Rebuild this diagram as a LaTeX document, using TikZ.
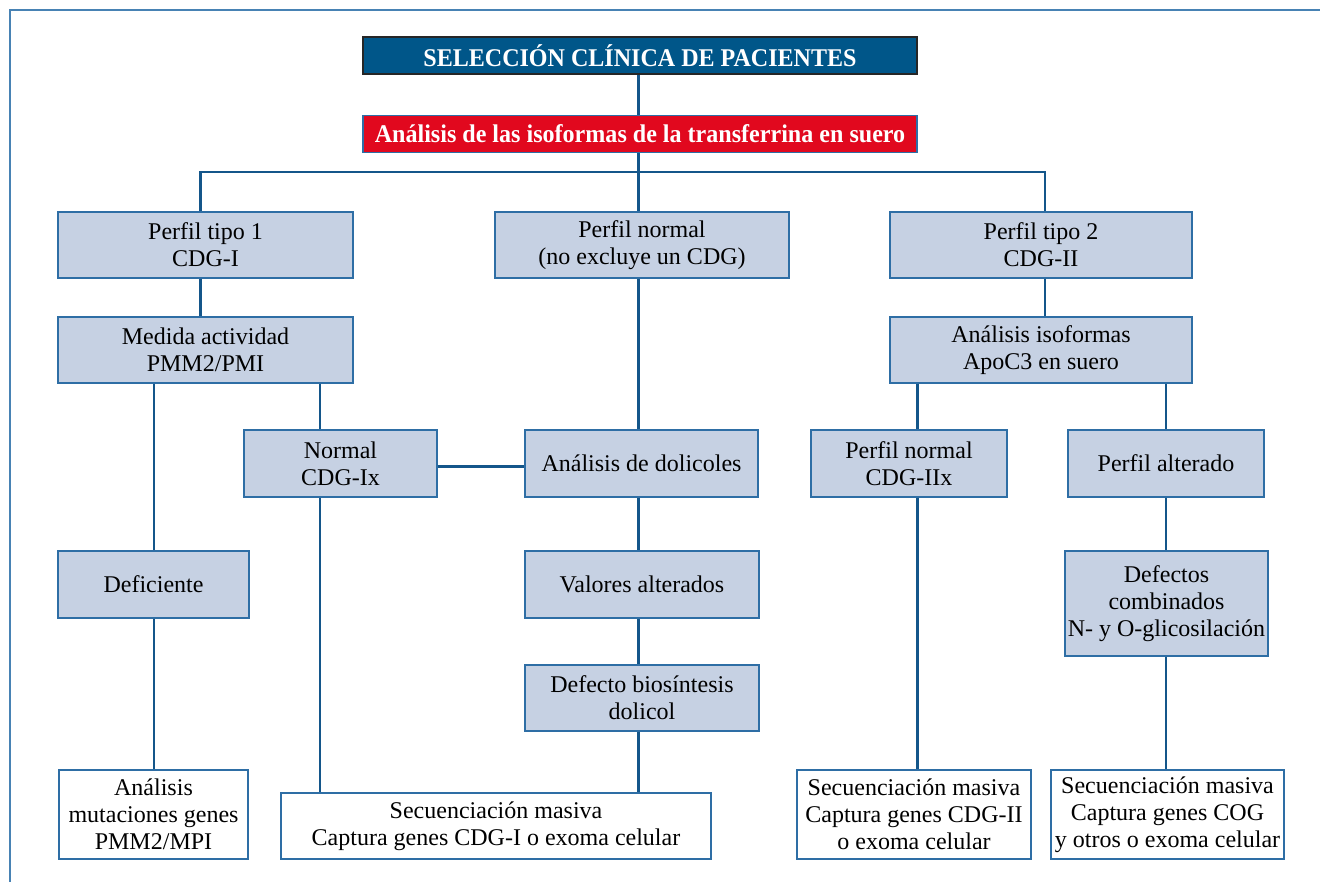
\documentclass[tikz,border=0pt]{standalone}
\usepackage{fontspec}
\setmainfont{Liberation Serif}
\definecolor{framec}{RGB}{72,130,180}
\definecolor{linec}{RGB}{20,86,138}
\definecolor{boxborder}{RGB}{46,110,165}
\definecolor{boxfill}{RGB}{198,209,227}
\definecolor{titlefill}{RGB}{0,86,137}
\definecolor{redfill}{RGB}{225,8,30}
\tikzset{
  conn/.style={draw=linec, line width=2.8pt},
  box/.style={draw=boxborder, line width=1.1pt, fill=boxfill, align=center, inner sep=0pt,
    font=\fontsize{24}{27}\selectfont},
  wbox/.style={box, fill=white},
  hdr/.style={draw=black!85, line width=1.3pt, fill=titlefill, text=white, align=center, inner sep=0pt,
    minimum width=554pt, minimum height=37pt, font=\bfseries\fontsize{25.5}{28}\selectfont},
  rhdr/.style={hdr, draw=boxborder, fill=redfill}
}
\begin{document}
\begin{tikzpicture}[x=1pt,y=-1pt]
\useasboundingbox (0,0) rectangle (1320,882);
\draw[framec, line width=1.5pt] (10,882) -- (10,10) -- (1320,10);

\node[hdr] (title) at (640,55.5) {\scalebox{0.943}[1]{SELECCIÓN CLÍNICA DE PACIENTES}};
\node[rhdr] (red) at (640,134) {\scalebox{0.944}[1]{Análisis de las isoformas de la transferrina en suero}};

\node[box, minimum width=295pt, minimum height=66pt] (p1) at (205.5,245) {Perfil tipo 1\\CDG-I};
\node[box, minimum width=294pt, minimum height=66pt] (pn) at (642,245) {Perfil normal\\(no excluye un CDG)};
\node[box, minimum width=302pt, minimum height=66pt] (p2) at (1041,245) {Perfil tipo 2\\CDG-II};

\node[box, minimum width=295pt, minimum height=66pt] (med) at (205.5,350) {Medida actividad\\PMM2/PMI};
\node[box, minimum width=302pt, minimum height=66pt] (apo) at (1041,350) {Análisis isoformas\\ApoC3 en suero};

\node[box, minimum width=193pt, minimum height=67pt] (ncdg) at (340.5,463.5) {Normal\\CDG-Ix};
\node[box, minimum width=233pt, minimum height=67pt] (dol) at (641.5,463.5) {Análisis de dolicoles};
\node[box, minimum width=196pt, minimum height=67pt] (pn2) at (909,463.5) {Perfil normal\\CDG-IIx};
\node[box, minimum width=196pt, minimum height=67pt] (palt) at (1166,463.5) {Perfil alterado};

\node[box, minimum width=191pt, minimum height=67pt] (def) at (153.5,584.5) {Deficiente};
\node[box, minimum width=234pt, minimum height=67pt] (val) at (642,584.5) {Valores alterados};
\node[box, minimum width=203pt, minimum height=105pt] (comb) at (1166.5,603.5) {Defectos\\combinados\\N- y O-glicosilación};
\node[box, minimum width=234pt, minimum height=66pt] (bio) at (642,698) {Defecto biosíntesis\\dolicol};

\node[wbox, minimum width=189pt, minimum height=89pt] (mut) at (153.5,814.5) {Análisis\\mutaciones genes\\PMM2/MPI};
\node[wbox, minimum width=430pt, minimum height=66pt] (seq1) at (496,826) {Secuenciación masiva\\Captura genes CDG-I o exoma celular};
\node[wbox, minimum width=234pt, minimum height=89pt] (seq2) at (914,814.5) {Secuenciación masiva\\Captura genes CDG-II\\o exoma celular};
\node[wbox, minimum width=233pt, minimum height=89pt] (seq3) at (1167.5,814.5) {Secuenciación masiva\\Captura genes COG\\y otros o exoma celular};

% connector x positions
\coordinate (xc) at (638.5,172);
\coordinate (xl) at (200.5,172);
\coordinate (xr) at (1045,172);
\coordinate (xa) at (154,0);
\coordinate (xb) at (320,0);
\coordinate (xd) at (917.5,0);
\coordinate (xe) at (1166,0);
\coordinate (xh) at (0,466.5);

\draw[conn] (title.south -| xc) -- (red.north -| xc);
\draw[conn] (red.south -| xc) -- (xc);
\draw[conn] (p1.north -| xl) -- (xl) -- (xr) -- (p2.north -| xr);
\draw[conn] (xc) -- (pn.north -| xc);
\draw[conn] (p1.south -| xl) -- (med.north -| xl);
\draw[conn] (p2.south -| xr) -- (apo.north -| xr);
\draw[conn] (pn.south -| xc) -- (dol.north -| xc);
\draw[conn] (med.south -| xa) -- (def.north -| xa);
\draw[conn] (def.south -| xa) -- (mut.north -| xa);
\draw[conn] (med.south -| xb) -- (ncdg.north -| xb);
\draw[conn] (ncdg.south -| xb) -- (seq1.north -| xb);
\draw[conn] (ncdg.east |- xh) -- (dol.west |- xh);
\draw[conn] (dol.south -| xc) -- (val.north -| xc);
\draw[conn] (val.south -| xc) -- (bio.north -| xc);
\draw[conn] (bio.south -| xc) -- (seq1.north -| xc);
\draw[conn] (apo.south -| xd) -- (pn2.north -| xd);
\draw[conn] (pn2.south -| xd) -- (seq2.north -| xd);
\draw[conn] (apo.south -| xe) -- (palt.north -| xe);
\draw[conn] (palt.south -| xe) -- (comb.north -| xe);
\draw[conn] (comb.south -| xe) -- (seq3.north -| xe);
\end{tikzpicture}
\end{document}
